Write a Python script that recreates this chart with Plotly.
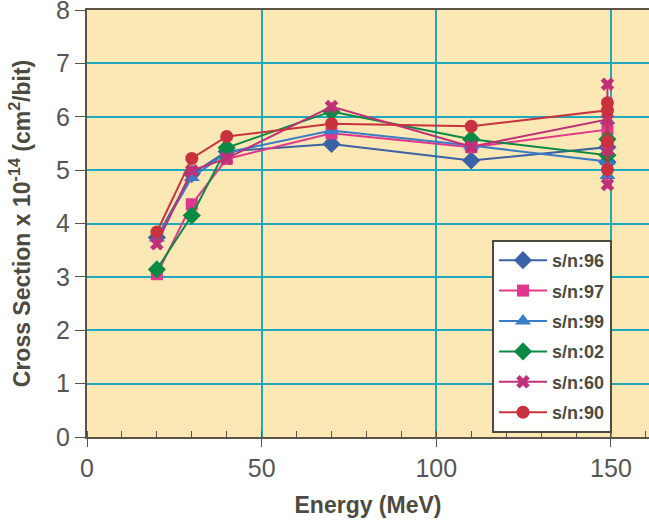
import plotly.graph_objects as go

names = ["s/n:96", "s/n:97", "s/n:99", "s/n:02", "s/n:60", "s/n:90"]
energy_96 = [20, 30, 40, 70, 110, 149, 149]
xs_96 = [3.74, 4.93, 5.35, 5.49, 5.18, 5.43, 5.15]
energy_97 = [20, 30, 40, 70, 110, 149, 149]
xs_97 = [3.05, 4.36, 5.21, 5.69, 5.43, 5.76, 5.50]
energy_99 = [20, 30, 40, 70, 110, 149, 149, 149]
xs_99 = [3.73, 4.86, 5.33, 5.74, 5.46, 5.16, 5.93, 4.90]
energy_02 = [20, 30, 40, 70, 110, 149, 149]
xs_02 = [3.14, 4.15, 5.42, 6.10, 5.58, 5.28, 5.58]
energy_60 = [20, 30, 40, 70, 110, 149, 149, 149, 149]
xs_60 = [3.62, 4.99, 5.22, 6.19, 5.44, 5.95, 6.61, 5.38, 4.73]
energy_90 = [20, 30, 40, 70, 110, 149, 149, 149, 149]
xs_90 = [3.84, 5.22, 5.63, 5.87, 5.82, 6.12, 6.26, 5.54, 5.01]

energies = [energy_96, energy_97, energy_99, energy_02, energy_60, energy_90]
values = [xs_96, xs_97, xs_99, xs_02, xs_60, xs_90]
colors = ["#3A62A6", "#E0388C", "#3A7CC8", "#0A8A45", "#C0307A", "#C8323E"]
symbols = ["diamond", "square", "triangle-up", "diamond", "x", "circle"]
sizes = [14, 12, 14, 14, 12, 13]

x_ticks = [0, 50, 100, 150]
y_ticks = [0, 1, 2, 3, 4, 5, 6, 7, 8]

fig = go.Figure()
for i in range(len(names)):
    fig.add_trace(go.Scatter(
        x=energies[i], y=values[i], name=names[i], mode="lines+markers",
        line=dict(color=colors[i], width=2),
        marker=dict(symbol=symbols[i], size=sizes[i], color=colors[i]),
        legendgroup=names[i],
    ))

axis_col = "#5a5548"
grid_col = "#22A8BE"
fig.update_layout(
    width=649, height=523,
    margin=dict(l=87, r=0, t=10, b=86, autoexpand=False),
    paper_bgcolor="white",
    plot_bgcolor="#FCE8B4",
    font=dict(family="Liberation Sans, Arial, sans-serif", color="#555555"),
    showlegend=True,
    legend=dict(
        x=0.7206, y=0.4614, xanchor="left", yanchor="top",
        bgcolor="white", bordercolor="#4d4a40", borderwidth=2,
        font=dict(size=18, color="#4d4a40", weight="bold"),
        tracegroupgap=4, itemwidth=48, entrywidth=145,
    ),
    xaxis=dict(
        range=[0, 160.9], tickvals=x_ticks, ticktext=[str(v) for v in x_ticks],
        showgrid=True, gridcolor=grid_col, gridwidth=2,
        showline=True, linecolor=axis_col, linewidth=2, mirror=True,
        ticks="outside", ticklen=8, tickwidth=1, tickcolor=axis_col,
        minor=dict(dtick=10, ticks="inside", ticklen=6, tickcolor=axis_col, showgrid=False),
        tickfont=dict(size=25, color="#555555"),
        zeroline=False, automargin=False,
        title=dict(text="Energy (MeV)", font=dict(size=23, color="#4d4a40", weight="bold"), standoff=16),
    ),
    yaxis=dict(
        range=[0, 8], tickvals=y_ticks,
        showgrid=True, gridcolor=grid_col, gridwidth=2,
        showline=True, linecolor=axis_col, linewidth=2,
        ticks="outside", ticklen=10, tickwidth=1, tickcolor=axis_col,
        tickfont=dict(size=25, color="#555555"),
        zeroline=False, automargin=False, ticklabeloverflow="allow",
        title=dict(text="Cross Section x 10<sup>-14</sup> (cm<sup>2</sup>/bit)",
                   font=dict(size=23, color="#4d4a40", weight="bold"), standoff=19),
    ),
)

fig.write_html("out.html", config={"displayModeBar": False},
               post_script="document.body.style.margin='0';")
